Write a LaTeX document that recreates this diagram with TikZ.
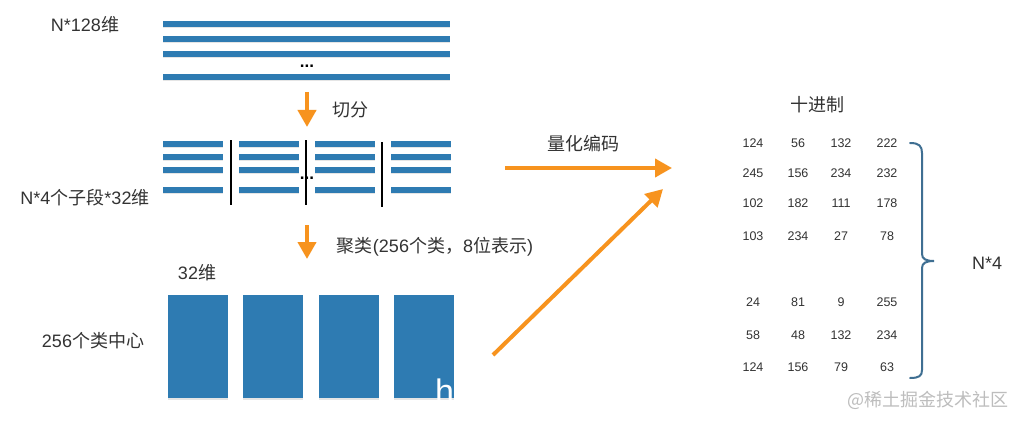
\documentclass[tikz,border=0pt]{standalone}
\usepackage{fontspec}
\setmainfont{Liberation Sans}
\newfontfamily\cjk{Noto Sans CJK SC}
\usetikzlibrary{arrows.meta}
\definecolor{barblue}{HTML}{2E7BB2}
\definecolor{arrorange}{HTML}{F7931E}
\definecolor{txt}{HTML}{333333}
\definecolor{bracec}{HTML}{3F6F92}
\definecolor{wmgray}{HTML}{BDBDBD}
\begin{document}
\begin{tikzpicture}[x=1pt,y=-1pt,
  lbl/.style={text=txt,inner sep=0pt,font=\fontsize{18}{20}\selectfont},
  num/.style={text=txt,inner sep=0pt,font=\fontsize{12.5}{14}\selectfont},
  dotsty/.style={text=black,inner sep=0pt,font=\bfseries\fontsize{17}{18}\selectfont},
  bar/.style={fill=barblue},
  shadowbar/.style={fill=black,opacity=0.10},
  flow/.style={draw=arrorange,line width=4pt,-{Triangle[length=17pt,width=18pt]}},
  sepline/.style={draw=black,line width=2pt},
]
\useasboundingbox[fill=white] (0,0) rectangle (1024,425);

% top bars: N*128
\foreach \y in {24,39,54,77}{
  \fill[shadowbar] (163,\y-2) rectangle (450,\y+4.5);
  \fill[bar] (163,\y-3) rectangle (450,\y+3);
}
\node[dotsty] (dots1) at (307,66) {...};

% split bars
\foreach \x in {163,239,315,391}{
  \foreach \y in {144,157,170,190}{
    \fill[shadowbar] (\x,\y-1.8) rectangle (\x+59.5,\y+4.3);
    \fill[bar] (\x,\y-2.8) rectangle (\x+59.5,\y+2.8);
  }
}
\draw[sepline] (231,140) -- (231,205);
\draw[sepline] (306,140) -- (306,205);
\draw[sepline] (382,142) -- (382,207);
\node[dotsty] (dots2) at (307,178) {...};

% cluster centres
\foreach \x in {168,243,319,394}{
  \fill[shadowbar] (\x,297) rectangle (\x+59.5,400);
  \fill[bar] (\x,295) rectangle (\x+59.5,398);
}
\node[text=white,inner sep=0pt,anchor=base west,font=\fontsize{34}{36}\selectfont] (hh) at (435,403) {h};

% labels
\node[lbl] (t128) at (85,25) {N*128{\cjk 维}};
\node[lbl] (tsub) at (85,198) {N*4{\cjk 个子段}*32{\cjk 维}};
\node[lbl] (tcut) at (350,110) {{\cjk 切分}};
\node[lbl] (tclu) at (435,247) {{\cjk 聚类}(256{\cjk 个类，}8{\cjk 位表示})};
\node[lbl] (t32) at (197,273) {32{\cjk 维}};
\node[lbl] (tcen) at (93,341) {256{\cjk 个类中心}};
\node[lbl] (tq) at (583,144) {{\cjk 量化编码}};
\node[lbl] (tdec) at (817,105) {{\cjk 十进制}};
\node[lbl] (tn4) at (987,263) {N*4};

% arrows
\coordinate (a1s) at (307,92);  \coordinate (a1e) at (307,127);
\coordinate (a2s) at (307,225); \coordinate (a2e) at (307,259);
\coordinate (a3s) at (505,168); \coordinate (a3e) at (672,168);
\coordinate (a4s) at (493,355); \coordinate (a4e) at (663,189);
\draw[flow] (a1s) -- (a1e);
\draw[flow] (a2s) -- (a2e);
\draw[flow] (a3s) -- (a3e);
\draw[flow] (a4s) -- (a4e);

% decimal table
\foreach \yy/\a/\b/\c/\d [count=\r] in {143/124/56/132/222, 173/245/156/234/232, 203/102/182/111/178, 236/103/234/27/78, 302/24/81/9/255, 335/58/48/132/234, 367/124/156/79/63}{
  \node[num] (n\r-1) at (753,\yy) {\a};
  \node[num] (n\r-2) at (798,\yy) {\b};
  \node[num] (n\r-3) at (841,\yy) {\c};
  \node[num] (n\r-4) at (887,\yy) {\d};
}

% brace
\draw[bracec,line width=2pt,line cap=round]
  (910,143) .. controls (919,143) and (922,146) .. (922,153) -- (922,254)
  .. controls (922,259) and (926,261) .. (934,261)
  .. controls (926,261) and (922,263) .. (922,268) -- (922,370)
  .. controls (922,376) and (919,378) .. (910,378);

% watermark
\node[text=wmgray,inner sep=0pt,font=\cjk\fontsize{18}{20}\selectfont] (wm) at (928,400) {@稀土掘金技术社区};
\end{tikzpicture}
\end{document}
